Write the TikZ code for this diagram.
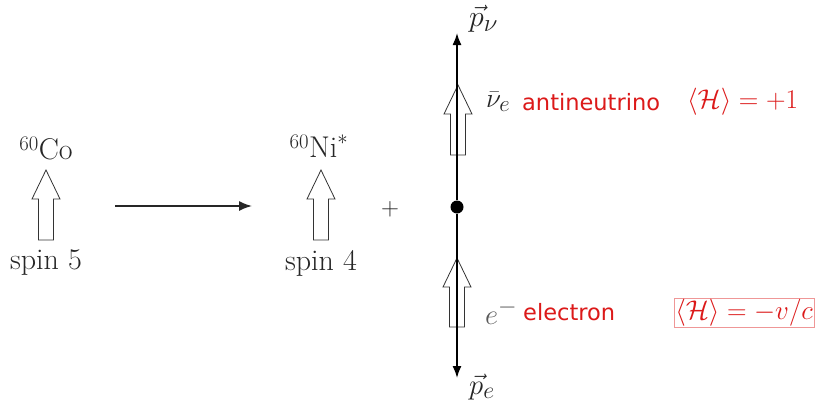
\documentclass[tikz,border=0pt]{standalone}
\usepackage{graphicx}
\usepackage{fontspec}
\newfontfamily\comic{DejaVu Sans}
\usetikzlibrary{arrows.meta}
\definecolor{hred}{RGB}{220,25,25}
\newcommand\hollowarrow[3]{%
  \draw[hollow] (#1-7.5,#3) -- (#1-7.5,#2+29) -- (#1-14,#2+29) -- (#1,#2)
    -- (#1+14,#2+29) -- (#1+7.5,#2+29) -- (#1+7.5,#3) -- cycle;}
\newcommand\enlargemath[1]{\scalebox{1.09}{$#1$}}
\newcommand\growmath[2]{\scalebox{#1}{$#2$}}
\begin{document}
\begin{tikzpicture}[x=1pt,y=-1pt,
  txt/.style={font=\fontsize{30}{36}\selectfont, text=black!85, inner sep=0pt},
  rtxt/.style={font=\comic\fontsize{22.5}{27}\selectfont, text=hred, inner sep=0pt},
  rmath/.style={font=\fontsize{25}{30}\selectfont, text=hred, inner sep=0pt},
  hollow/.style={draw=black!80, fill=white, line width=0.8pt},
  axis/.style={line width=1.6pt, -{Latex[length=12pt,width=9pt]}},
  dot/.style={circle, fill=black, inner sep=0pt, minimum size=13pt}]
\useasboundingbox (0,0) rectangle (817,405);
\fill[white] (0,0) rectangle (817,405);
% left: Co
\node[txt] (co) at (46,149) {$^{60}\mathrm{Co}$};
\hollowarrow{46}{170}{240}
\node[txt] (spin5) at (46,263) {spin 5};
% reaction arrow
\coordinate (r1) at (115,206);
\coordinate (r2) at (252,206);
\draw[line width=1.6pt, draw=black!85, -{Latex[length=13pt,width=10pt]}] (r1) -- (r2);
% Ni
\node[txt] (ni) at (319,146) {$^{60}\mathrm{Ni}^*$};
\hollowarrow{321}{170}{240}
\node[txt] (spin4) at (321,263) {spin 4};
\node[txt] (plus) at (390,209) {$+$};
% right axis
\hollowarrow{458}{85}{155}
\hollowarrow{457}{258}{327}
\node[dot] (v) at (457,207) {};
\coordinate (top) at (457,33);
\coordinate (bot) at (457,378);
\draw[axis] (v) -- (top);
\draw[axis] (v) -- (bot);
\node[txt, anchor=west] (pnu) at (469,19) {\growmath{1.2}{\vec p_\nu}};
\node[txt, anchor=west] (pe) at (469,387) {\growmath{1.15}{\vec p_e}};
% antineutrino row
\node[txt, anchor=west] (nub) at (486,102) {\growmath{1.1}{\bar\nu_e}};
\node[rtxt, anchor=west] (anti) at (522,102) {antineutrino};
\node[rmath, anchor=west] (h1) at (687,102) {\enlargemath{\langle\mathcal{H}\rangle=+1}};
% electron row
\node[txt, anchor=west, text=black!65] (em) at (485,312) {\growmath{1.15}{e^-}};
\node[rtxt, anchor=west] (el) at (523,312) {electron};
\node[rmath, anchor=west, draw=hred!45, line width=0.5pt, inner sep=1pt] (h2) at (674,313) {\enlargemath{\langle\mathcal{H}\rangle=-v/c}};
\end{tikzpicture}
\end{document}
